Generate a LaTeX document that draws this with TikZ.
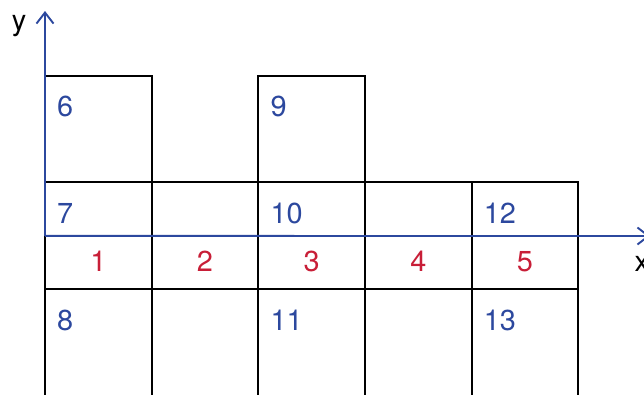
\documentclass[tikz,border=0pt]{standalone}
\usepackage{fontspec}
\setmainfont{TeX Gyre Heros}
\usetikzlibrary{arrows.meta}
\definecolor{axisblue}{RGB}{44,72,158}
\definecolor{numred}{RGB}{200,30,55}
\tikzset{
  cell/.style={draw=black, line width=2bp, minimum width=106.65bp, inner sep=0pt, outer sep=0pt},
  fullcell/.style={cell, minimum height=106.65bp},
  halfcell/.style={cell, minimum height=53.5bp},
  bluenum/.style={text=axisblue, anchor=base west, inner sep=0pt, font=\fontsize{29}{30}\selectfont},
  rednum/.style={text=numred, anchor=base, inner sep=0pt, font=\fontsize{29}{30}\selectfont},
  axlabel/.style={text=black, inner sep=0pt, font=\fontsize{29}{30}\selectfont},
  axis/.style={draw=axisblue, line width=1.9bp, -{Straight Barb[length=11bp,width=17bp,line width=1.9bp]}}
}
\begin{document}
\begin{tikzpicture}[x=1bp,y=-1bp]
\useasboundingbox (0,0) rectangle (644,394);
\clip (0,0) rectangle (644,394);
% top row
\node[fullcell] (c6) at (98.33,129) {};
\node[fullcell] (c9) at (311.63,129) {};
% row of 7..12
\node[halfcell] (c7) at (98.33,209.15) {};
\node[halfcell] (ca) at (204.98,209.15) {};
\node[halfcell] (c10) at (311.63,209.15) {};
\node[halfcell] (cb) at (418.28,209.15) {};
\node[halfcell] (c12) at (524.93,209.15) {};
% row 1..5
\node[halfcell] (c1) at (98.33,262.65) {};
\node[halfcell] (c2) at (204.98,262.65) {};
\node[halfcell] (c3) at (311.63,262.65) {};
\node[halfcell] (c4) at (418.28,262.65) {};
\node[halfcell] (c5) at (524.93,262.65) {};
% bottom row
\node[fullcell] (c8) at (98.33,342.7) {};
\node[fullcell] (cc) at (204.98,342.7) {};
\node[fullcell] (c11) at (311.63,342.7) {};
\node[fullcell] (cd) at (418.28,342.7) {};
\node[fullcell] (c13) at (524.93,342.7) {};
% axes
\coordinate (O) at (c1.north west);
\coordinate (ytip) at (45,11);
\coordinate (xtip) at (650,236);
\draw[axis] (O) -- (ytip);
\draw[axis] (O) -- (xtip);
\node[axlabel, anchor=base] (ylab) at (19,30) {y};
\node[axlabel, anchor=base west] (xlab) at (634.5,271.7) {x};
% blue numbers
\node[bluenum] (n6) at ([shift={(12,41.3)}]c6.north west) {6};
\node[bluenum] (n9) at ([shift={(12,41.3)}]c9.north west) {9};
\node[bluenum] (n7) at ([shift={(12,41.2)}]c7.north west) {7};
\node[bluenum] (n10) at ([shift={(12,41.2)}]c10.north west) {10};
\node[bluenum] (n12) at ([shift={(12,41.2)}]c12.north west) {12};
\node[bluenum] (n8) at ([shift={(12,41.2)}]c8.north west) {8};
\node[bluenum] (n11) at ([shift={(12,41.2)}]c11.north west) {11};
\node[bluenum] (n13) at ([shift={(12,41.2)}]c13.north west) {13};
% red numbers
\node[rednum] (r1) at ([shift={(0,35.7)}]c1.north) {1};
\node[rednum] (r2) at ([shift={(0,35.7)}]c2.north) {2};
\node[rednum] (r3) at ([shift={(0,35.7)}]c3.north) {3};
\node[rednum] (r4) at ([shift={(0,35.7)}]c4.north) {4};
\node[rednum] (r5) at ([shift={(0,35.7)}]c5.north) {5};
\end{tikzpicture}
\end{document}
